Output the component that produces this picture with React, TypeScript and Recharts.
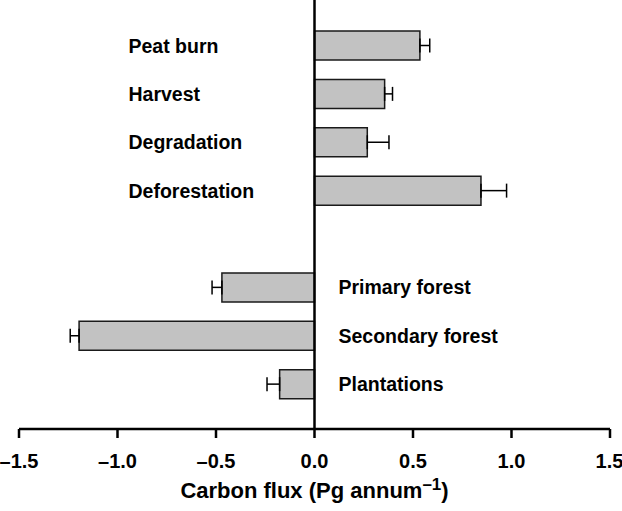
import { BarChart, Bar, XAxis, YAxis, ReferenceLine, ErrorBar, LabelList } from 'recharts'

const categories = ['Peat burn', 'Harvest', 'Degradation', 'Deforestation', '', 'Primary forest', 'Secondary forest', 'Plantations']
const fluxValues: (number | null)[] = [0.535, 0.356, 0.268, 0.845, null, -0.47, -1.195, -0.177]
const fluxErrors: (number | null)[] = [0.05, 0.04, 0.11, 0.13, null, 0.05, 0.045, 0.064]
const xTicks = [-1.5, -1.0, -0.5, 0, 0.5, 1.0, 1.5]

const FONT = '"Liberation Sans", Arial, Helvetica, sans-serif'

const data = categories.map((name, i) => {
    const v = fluxValues[i]
    const e = fluxErrors[i]
    return {
        name,
        value: v,
        // one-sided error bars, pointing away from zero
        err: v == null || e == null ? null : v >= 0 ? [0, e] : [e, 0],
    }
})

const formatTick = (v: number) => v.toFixed(1).replace('-', '\u2013')

const SideLabel = (props: any) => {
    const { x, y, width, height, value } = props
    const idx = categories.indexOf(value)
    const v = idx >= 0 ? fluxValues[idx] : null
    if (v == null || !value) return null
    const left = Math.min(x, x + width)
    const right = Math.max(x, x + width)
    const cy = y + height / 2
    // positive bars: label sits left of the zero line; negative bars: to the right
    const tx = v >= 0 ? left - 186 : right + 24
    return (
        <text x={tx} y={cy + 7} textAnchor="start" fontFamily={FONT} fontWeight="bold" fontSize={19.5} fill="#000">
            {value}
        </text>
    )
}

const AxisTitle = (props: any) => {
    const { x, y, width } = props.viewBox
    return (
        <text x={x + width / 2} y={y + 69} textAnchor="middle" fontFamily={FONT} fontWeight="bold" fontSize={22} fill="#000">
            Carbon flux (Pg annum
            <tspan fontSize={17} dy={-8}>{'\u20131'}</tspan>
            <tspan dy={8}>)</tspan>
        </text>
    )
}

export default function App() {
    return (
        <div style={{ position: 'absolute', left: 0, top: 0, background: '#fff' }}>
            <BarChart
                width={622}
                height={511}
                data={data}
                layout="vertical"
                margin={{ top: 0, right: 12, left: 19, bottom: 0 }}
                style={{ overflow: 'visible' }}
            >
                <XAxis
                    type="number"
                    domain={[-1.5, 1.5]}
                    ticks={xTicks}
                    tickFormatter={formatTick}
                    axisLine={{ stroke: '#000', strokeWidth: 2.5 }}
                    tickLine={{ stroke: '#000', strokeWidth: 2.5 }}
                    tickSize={9}
                    tickMargin={16}
                    tick={{ fill: '#000', fontSize: 20, fontWeight: 'bold', fontFamily: FONT }}
                    height={82}
                    label={<AxisTitle />}
                />
                <YAxis type="category" dataKey="name" hide padding={{ top: 21, bottom: 21 }} />
                <Bar dataKey="value" fill="#c2c2c2" stroke="#1a1a1a" strokeWidth={1.5} barSize={29} isAnimationActive={false}>
                    <ErrorBar dataKey="err" direction="x" width={7} stroke="#000" strokeWidth={1.5} isAnimationActive={false} />
                    <LabelList dataKey="name" content={<SideLabel />} />
                </Bar>
                <ReferenceLine x={0} stroke="#000" strokeWidth={2.5} />
            </BarChart>
        </div>
    )
}
